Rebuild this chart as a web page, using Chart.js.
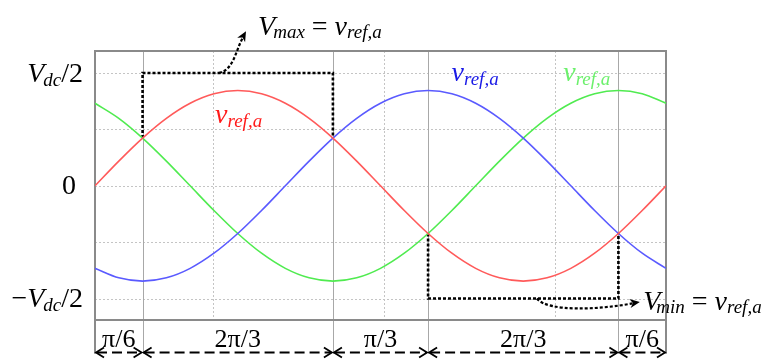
<!DOCTYPE html>
<html>
<head>
<meta charset="utf-8">
<script src="https://cdn.jsdelivr.net/npm/chart.js@4/dist/chart.umd.min.js"></script>
<style>
html,body{margin:0;padding:0;background:#fff;}
#wrap{width:763px;height:359px;}
</style>
</head>
<body>
<div id="wrap"><canvas id="c" width="763" height="359"></canvas></div>
<script>
// ---- data (angle in degrees, value in units of Vdc/2) ----
const angles = [0,15,30,45,60,75,90,105,120,135,150,165,180,195,210,225,240,255,270,285,300,315,330,345,360];
const redSeries   = [0,0.219,0.423,0.598,0.732,0.816,0.845,0.816,0.732,0.598,0.423,0.219,0,-0.219,-0.423,-0.598,-0.732,-0.816,-0.845,-0.816,-0.732,-0.598,-0.423,-0.219,0];
const blueSeries  = [-0.732,-0.816,-0.845,-0.816,-0.732,-0.598,-0.423,-0.219,0,0.219,0.423,0.598,0.732,0.816,0.845,0.816,0.732,0.598,0.423,0.219,0,-0.219,-0.423,-0.598,-0.732];
const greenSeries = [0.732,0.598,0.423,0.219,0,-0.219,-0.423,-0.598,-0.732,-0.816,-0.845,-0.816,-0.732,-0.598,-0.423,-0.219,0,0.219,0.423,0.598,0.732,0.816,0.845,0.816,0.732];
const maxPathX = [30,30,150,150];
const maxPathY = [0.423,1,1,0.423];
const minPathX = [210,210,330,330];
const minPathY = [-0.423,-1,-1,-0.423];
const yTickValues = [1,0,-1];
const hGridValues = [1,0.5,0,-0.5,-1];
const vSolidValues = [30,150,210,330];
const vDottedValues = [74.4,182.2,290];
const segmentBounds = [0,30,150,210,330,360];
const segmentLabels = ['π/6','2π/3','π/3','2π/3','π/6'];

const SERIF = "'Liberation Serif','Times New Roman',serif";
const toXY = (xs, ys) => xs.map((x,i)=>({x:x, y:ys[i]}));

function rich(ctx, parts, x, y, align){
  let w = 0;
  parts.forEach(p=>{ ctx.font = p.f; w += ctx.measureText(p.t).width + (p.g||0); });
  let cx = align==='right' ? x - w : (align==='center' ? x - w/2 : x);
  ctx.textBaseline = 'alphabetic';
  ctx.textAlign = 'left';
  parts.forEach(p=>{
    ctx.font = p.f; ctx.fillStyle = p.c || '#000';
    ctx.fillText(p.t, cx, y + (p.dy||0));
    cx += ctx.measureText(p.t).width + (p.g||0);
  });
}
const BIG_I = "italic 28px " + SERIF, BIG = "28px " + SERIF, SUB_I = "italic 19px " + SERIF;

function vref(color){
  return [{t:'v', f:BIG_I, c:color, g:0},{t:'ref,a', f:SUB_I, c:color, dy:4}];
}

function arrowHeadFilled(ctx, x, y, ang, len, half){
  ctx.save();
  ctx.translate(x,y); ctx.rotate(ang);
  ctx.beginPath(); ctx.moveTo(0,0); ctx.lineTo(-len,-half); ctx.lineTo(-len*0.7,0); ctx.lineTo(-len,half); ctx.closePath();
  ctx.fill(); ctx.restore();
}
function arrowHeadOpen(ctx, x, y, dir){
  ctx.beginPath();
  ctx.moveTo(x - dir*8, y - 5); ctx.lineTo(x, y); ctx.lineTo(x - dir*8, y + 5);
  ctx.stroke();
}

const decor = {
  id:'decor',
  beforeDatasetsDraw(chart){
    const ctx = chart.ctx, xs = chart.scales.x, ys = chart.scales.y, a = chart.chartArea;
    ctx.save();
    // dotted grid
    ctx.strokeStyle = '#c4c4c4'; ctx.lineWidth = 1; ctx.setLineDash([2,2]);
    hGridValues.forEach(v=>{ const y = Math.round(ys.getPixelForValue(v))+0.5; ctx.beginPath(); ctx.moveTo(a.left,y); ctx.lineTo(a.right,y); ctx.stroke(); });
    vDottedValues.forEach(v=>{ const x = Math.round(xs.getPixelForValue(v))+0.5; ctx.beginPath(); ctx.moveTo(x,a.top); ctx.lineTo(x,a.bottom); ctx.stroke(); });
    ctx.setLineDash([]);
    // solid vertical separators (extend into the label band)
    const yLow = ys.getPixelForValue(-1.49);
    ctx.strokeStyle = '#a8a8a8'; ctx.lineWidth = 1;
    vSolidValues.forEach(v=>{ const x = Math.round(xs.getPixelForValue(v))+0.5; ctx.beginPath(); ctx.moveTo(x,a.top); ctx.lineTo(x,yLow); ctx.stroke(); });
    // frame
    ctx.strokeStyle = '#8a8a8a'; ctx.lineWidth = 2;
    ctx.beginPath();
    ctx.moveTo(a.left, yLow); ctx.lineTo(a.left, a.top); ctx.lineTo(a.right, a.top); ctx.lineTo(a.right, yLow);
    ctx.moveTo(a.left, a.bottom); ctx.lineTo(a.right, a.bottom);
    ctx.stroke();
    ctx.restore();
  },
  afterDraw(chart){
    const ctx = chart.ctx, xs = chart.scales.x, ys = chart.scales.y, a = chart.chartArea;
    const X = v=>xs.getPixelForValue(v), Y = v=>ys.getPixelForValue(v);
    ctx.save();
    // y tick labels
    const lx = a.left - 12;
    rich(ctx, [{t:'V',f:BIG_I,g:-1},{t:'dc',f:SUB_I,dy:4},{t:'/2',f:BIG}], lx, Y(yTickValues[0])+9, 'right');
    rich(ctx, [{t:'0',f:BIG}], lx-7, Y(yTickValues[1])+8, 'right');
    rich(ctx, [{t:'−',f:BIG},{t:'V',f:BIG_I,g:-1},{t:'dc',f:SUB_I,dy:4},{t:'/2',f:BIG}], lx, Y(yTickValues[2])+8, 'right');
    // series labels
    rich(ctx, vref('#ff1a1a'), X(75.7), Y(0.56), 'left');
    rich(ctx, vref('#1a1ae6'), X(224.8), Y(0.925), 'left');
    rich(ctx, vref('#6cf06c'), X(295.2), Y(0.925), 'left');
    // Vmax / Vmin labels
    rich(ctx, [{t:'V',f:BIG_I,g:-2},{t:'max',f:SUB_I,dy:3},{t:' = ',f:BIG},{t:'v',f:BIG_I},{t:'ref,a',f:SUB_I,dy:3}], X(102.8), Y(1.336), 'left');
    rich(ctx, [{t:'V',f:BIG_I,g:-4},{t:'min',f:SUB_I,dy:3},{t:' = ',f:BIG},{t:'v',f:BIG_I},{t:'ref,a',f:SUB_I,dy:3}], X(345.6), Y(-1.097), 'left');
    // curved arrows
    ctx.strokeStyle = '#000'; ctx.fillStyle = '#000'; ctx.lineWidth = 2.2; ctx.setLineDash([3,2]);
    let p0=[X(78.2),Y(1.0)], c1=[X(87.7),Y(1.03)], c2=[X(88.5),Y(1.2)], p3=[X(93.5),Y(1.32)];
    ctx.beginPath(); ctx.moveTo(...p0); ctx.bezierCurveTo(...c1,...c2,...p3); ctx.stroke();
    ctx.setLineDash([]);
    arrowHeadFilled(ctx, X(95.2), Y(1.37), Math.atan2(Y(1.37)-Y(1.2), X(95.2)-X(88.5)), 10, 4.5);
    ctx.setLineDash([3,2]);
    p0=[X(278.6),Y(-1.0)]; c1=[X(285.6),Y(-1.12)]; c2=[X(318),Y(-1.1)]; p3=[X(340),Y(-1.04)];
    ctx.beginPath(); ctx.moveTo(...p0); ctx.bezierCurveTo(...c1,...c2,...p3); ctx.stroke();
    ctx.setLineDash([]);
    arrowHeadFilled(ctx, X(343.5), Y(-1.03), Math.atan2(Y(-1.03)-Y(-1.06), X(343.5)-X(330)), 10, 4.5);
    // bottom segment labels and double arrows
    const yLab = Y(-1.425), yArr = Y(-1.478);
    for(let i=0;i<segmentLabels.length;i++){
      const x0 = X(segmentBounds[i]), x1 = X(segmentBounds[i+1]);
      rich(ctx, [{t:segmentLabels[i], f:"26px "+SERIF}], (x0+x1)/2, yLab, 'center');
      ctx.strokeStyle='#000'; ctx.lineWidth=2;
      ctx.setLineDash([10,5]);
      ctx.beginPath(); ctx.moveTo(x0+2, yArr); ctx.lineTo(x1-2, yArr); ctx.stroke();
      ctx.setLineDash([]); ctx.lineWidth=1.8;
      arrowHeadOpen(ctx, x0+1, yArr, -1);
      arrowHeadOpen(ctx, x1-1, yArr, 1);
    }
    ctx.restore();
  }
};

const line = (data, color, extra) => Object.assign({data:data, borderColor:color, borderWidth:1.6, pointRadius:0, fill:false, cubicInterpolationMode:'monotone'}, extra||{});

new Chart(document.getElementById('c'), {
  type:'scatter',
  data:{datasets:[
    line(toXY(angles, redSeries), 'rgb(255,90,90)', {showLine:true}),
    line(toXY(angles, blueSeries), 'rgb(90,90,255)', {showLine:true}),
    line(toXY(angles, greenSeries), 'rgb(80,235,80)', {showLine:true}),
    line(toXY(maxPathX, maxPathY), '#000', {showLine:true, borderWidth:2.6, borderDash:[3,2], cubicInterpolationMode:'default', tension:0}),
    line(toXY(minPathX, minPathY), '#000', {showLine:true, borderWidth:2.6, borderDash:[3,2], cubicInterpolationMode:'default', tension:0})
  ]},
  options:{
    responsive:false, animation:false, devicePixelRatio:1,
    layout:{padding:{left:95, right:97, top:51, bottom:39}},
    plugins:{legend:{display:false}, tooltip:{enabled:false}},
    scales:{
      x:{type:'linear', min:0, max:360, display:false},
      y:{type:'linear', min:-1.19, max:1.195, display:false}
    }
  },
  plugins:[decor]
});
</script>
</body>
</html>
